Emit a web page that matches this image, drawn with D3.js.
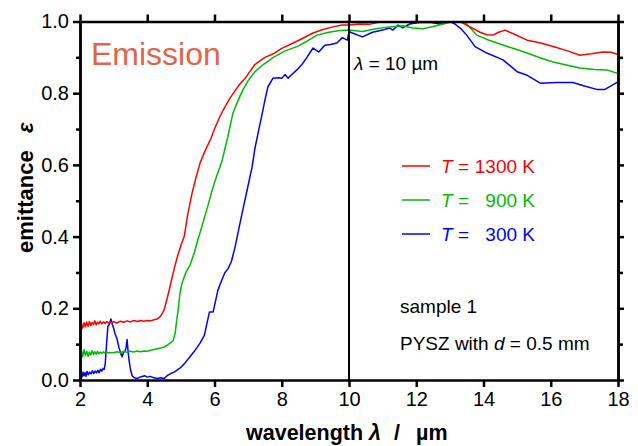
<!DOCTYPE html>
<html>
<head>
<meta charset="utf-8">
<script src="https://cdn.jsdelivr.net/npm/d3@7"></script>
<style>
  body { margin: 0; background: #fff; }
  svg { display: block; font-family: "Liberation Sans", Arial, sans-serif; }
</style>
</head>
<body>
<svg id="chart" width="638" height="446"></svg>
<script>
// tick labels
var xTicks = [2, 4, 6, 8, 10, 12, 14, 16, 18];
var yTicks = [0, 0.2, 0.4, 0.6, 0.8, 1.0];
var yMinor = [0.1, 0.3, 0.5, 0.7, 0.9];

// T = 1300 K
var redWl = [2.00,2.04,2.08,2.12,2.16,2.20,2.24,2.28,2.32,2.36,2.40,2.44,2.48,2.52,2.56,2.60,2.65,2.70,2.75,2.80,2.85,2.90,2.95,3.00,3.1,3.2,3.3,3.4,3.5,3.6,3.7,3.8,3.9,4.0,4.1,4.2,4.3,4.4,4.5,4.6,4.7,4.8,4.9,5.0,5.1,5.2,5.33,5.45,5.57,5.7,5.8,5.9,6.0,6.16,6.3,6.45,6.6,6.75,6.9,7.05,7.2,7.35,7.5,7.75,8.0,8.34,8.6,8.93,9.2,9.52,9.8,10.0,10.3,10.6,11.0,11.3,11.6,12.0,12.5,13.0,13.3,13.6,13.9,14.1,14.28,14.45,14.64,14.9,15.3,15.7,16.07,16.5,16.87,17.2,17.55,17.8,18.0];
var redEps = [0.140,0.158,0.145,0.160,0.148,0.162,0.150,0.163,0.152,0.160,0.155,0.165,0.154,0.161,0.157,0.164,0.157,0.162,0.158,0.163,0.159,0.162,0.160,0.163,0.159,0.164,0.161,0.165,0.162,0.166,0.163,0.166,0.164,0.166,0.165,0.168,0.170,0.178,0.195,0.23,0.27,0.31,0.345,0.375,0.40,0.46,0.52,0.565,0.605,0.635,0.655,0.675,0.70,0.735,0.76,0.785,0.805,0.825,0.84,0.86,0.88,0.89,0.90,0.91,0.925,0.94,0.952,0.968,0.977,0.985,0.99,0.99,0.993,0.992,1.0,1.005,1.01,1.01,1.01,1.01,1.0,0.985,0.97,0.963,0.962,0.97,0.976,0.965,0.948,0.94,0.93,0.918,0.906,0.91,0.915,0.914,0.908];

// T = 900 K
var greenWl = [2.00,2.04,2.08,2.12,2.16,2.20,2.24,2.28,2.32,2.36,2.40,2.44,2.48,2.52,2.56,2.60,2.65,2.70,2.75,2.80,2.85,2.90,3.0,3.1,3.2,3.3,3.4,3.5,3.6,3.7,3.8,3.9,4.0,4.1,4.2,4.3,4.4,4.5,4.6,4.7,4.77,4.83,4.88,4.92,4.97,5.02,5.07,5.15,5.27,5.4,5.5,5.63,5.8,5.93,6.05,6.22,6.31,6.4,6.55,6.7,6.85,7.0,7.2,7.45,7.75,8.1,8.45,8.75,9.05,9.4,9.73,10.0,10.4,10.8,11.2,11.6,11.9,12.2,12.6,13.0,13.2,13.45,13.65,13.8,14.1,14.4,14.85,15.3,15.7,16.07,16.5,16.87,17.3,17.67,18.0];
var greenEps = [0.060,0.082,0.065,0.085,0.068,0.080,0.066,0.078,0.070,0.082,0.071,0.079,0.072,0.080,0.073,0.078,0.074,0.079,0.074,0.078,0.075,0.077,0.076,0.079,0.076,0.080,0.077,0.080,0.078,0.081,0.079,0.081,0.080,0.083,0.085,0.087,0.089,0.092,0.097,0.104,0.11,0.13,0.17,0.195,0.24,0.265,0.28,0.30,0.32,0.355,0.39,0.43,0.485,0.53,0.565,0.61,0.645,0.68,0.745,0.78,0.81,0.835,0.86,0.88,0.90,0.918,0.93,0.945,0.962,0.97,0.975,0.976,0.972,0.98,0.985,0.988,0.982,0.98,0.988,0.998,1.0,0.997,0.978,0.962,0.95,0.94,0.926,0.912,0.898,0.887,0.878,0.87,0.866,0.865,0.855];

// T = 300 K
var blueWl = [2.00,2.03,2.06,2.09,2.12,2.15,2.18,2.21,2.25,2.29,2.33,2.37,2.41,2.45,2.49,2.53,2.57,2.61,2.65,2.69,2.72,2.75,2.79,2.83,2.87,2.92,2.96,3.00,3.04,3.10,3.16,3.21,3.25,3.30,3.34,3.37,3.40,3.43,3.46,3.50,3.55,3.62,3.70,3.78,3.85,3.92,4.00,4.1,4.2,4.3,4.4,4.5,4.59,4.7,4.8,4.97,5.1,5.27,5.4,5.57,5.7,5.78,5.85,5.96,6.03,6.1,6.2,6.31,6.4,6.5,6.61,6.72,6.82,6.97,7.12,7.2,7.3,7.44,7.52,7.59,7.74,7.9,8.0,8.1,8.19,8.3,8.45,8.6,8.75,8.93,9.1,9.28,9.45,9.64,9.8,9.95,10.0,10.1,10.4,10.7,11.0,11.2,11.3,11.46,11.6,11.8,12.1,12.4,12.7,13.0,13.15,13.35,13.5,13.75,14.1,14.58,15.0,15.3,15.69,16.18,16.66,17.0,17.4,17.6,17.97,18.0];
var blueEps = [0.005,0.018,0.008,0.022,0.012,0.020,0.010,0.024,0.015,0.022,0.017,0.026,0.018,0.025,0.020,0.027,0.020,0.030,0.025,0.032,0.030,0.045,0.10,0.15,0.155,0.17,0.155,0.145,0.13,0.115,0.09,0.075,0.065,0.078,0.08,0.09,0.113,0.08,0.055,0.03,0.012,0.006,0.004,0.008,0.010,0.012,0.008,0.010,0.006,0.004,0.006,0.004,0.012,0.018,0.022,0.033,0.045,0.065,0.08,0.103,0.125,0.16,0.19,0.19,0.22,0.25,0.275,0.30,0.31,0.33,0.37,0.42,0.465,0.53,0.595,0.645,0.69,0.753,0.79,0.818,0.842,0.843,0.842,0.852,0.842,0.852,0.865,0.88,0.90,0.926,0.915,0.934,0.936,0.94,0.955,0.948,0.972,0.968,0.957,0.97,0.976,0.982,0.976,0.99,0.982,0.993,0.997,0.998,0.993,1.0,0.993,0.978,0.962,0.93,0.912,0.893,0.86,0.85,0.828,0.83,0.83,0.82,0.81,0.81,0.83,0.825];

var seriesNames = ["1300", "900", "300"];
var seriesColors = ["#ff0000", "#00bb00", "#0000ff"];

var svg = d3.select("#chart");
var padL = 80, padR = 618, padT = 21.5, padB = 380;

var x = d3.scaleLinear().domain([2, 18]).range([padL, padR]);
var y = d3.scaleLinear().domain([0, 1]).range([padB, padT]);

svg.append("clipPath").attr("id", "clip")
  .append("rect").attr("x", padL).attr("y", padT).attr("width", padR - padL).attr("height", padB - padT);

var line = d3.line().x(function (d) { return x(d[0]); }).y(function (d) { return y(d[1]); });

var series = [
  d3.zip(redWl, redEps),
  d3.zip(greenWl, greenEps),
  d3.zip(blueWl, blueEps)
];

// draw low-T first so red sits on top
var plot = svg.append("g").attr("clip-path", "url(#clip)");
[2, 1, 0].forEach(function (i) {
  plot.append("path")
    .datum(series[i])
    .attr("fill", "none")
    .attr("stroke", seriesColors[i])
    .attr("stroke-width", 1.5)
    .attr("stroke-linejoin", "round")
    .attr("d", line);
});

// marker line at 10 µm
svg.append("line")
  .attr("x1", x(10)).attr("x2", x(10))
  .attr("y1", y(1)).attr("y2", y(0))
  .attr("stroke", "#000").attr("stroke-width", 2);

function styleAxis(g) {
  g.selectAll("path, line").attr("stroke", "#000").attr("stroke-width", 2.5);
  g.selectAll("text").attr("fill", "#000").style("font-size", "20px")
    .style("font-family", "Liberation Sans, Arial, sans-serif");
}

svg.append("g").attr("transform", "translate(0," + padB + ")")
  .call(d3.axisBottom(x).tickValues(xTicks).tickSize(7).tickSizeOuter(0).tickPadding(5).tickFormat(d3.format("d")))
  .call(styleAxis);
svg.append("g").attr("transform", "translate(0," + padT + ")")
  .call(d3.axisTop(x).tickValues(xTicks).tickSize(7).tickSizeOuter(0).tickFormat(""))
  .call(styleAxis);
svg.append("g").attr("transform", "translate(" + padL + ",0)")
  .call(d3.axisLeft(y).tickValues(yTicks).tickSize(7).tickSizeOuter(0).tickPadding(4).tickFormat(d3.format(".1f")))
  .call(styleAxis);
svg.append("g").attr("transform", "translate(" + padL + ",0)")
  .call(d3.axisLeft(y).tickValues(yMinor).tickSize(4).tickSizeOuter(0).tickFormat(""))
  .call(styleAxis);
svg.append("g").attr("transform", "translate(" + padR + ",0)")
  .call(d3.axisRight(y).tickValues(yTicks).tickSize(6).tickSizeOuter(0).tickFormat(""))
  .call(styleAxis);
svg.append("g").attr("transform", "translate(" + padR + ",0)")
  .call(d3.axisRight(y).tickValues(yMinor).tickSize(5).tickSizeOuter(0).tickFormat(""))
  .call(styleAxis);

// axis titles
var xt = svg.append("text").attr("y", 440)
  .style("font-size", "21.5px").style("font-weight", "bold");
xt.append("tspan").attr("x", 246).text("wavelength");
xt.append("tspan").attr("x", 369).style("font-style", "italic").text("λ");
xt.append("tspan").attr("x", 394).text("/");
xt.append("tspan").attr("x", 416).text("µm");

var yt = svg.append("text").attr("transform", "translate(33,0) rotate(-90)")
  .style("font-size", "22px").style("font-weight", "bold");
yt.append("tspan").attr("x", -253).text("emittance");
yt.append("tspan").attr("x", -133).style("font-style", "italic").text("ε");

svg.append("text").attr("x", 91).attr("y", 65)
  .style("font-size", "32px").attr("fill", "#e0654d").text("Emission");

var lt = svg.append("text").attr("x", 354).attr("y", 70).style("font-size", "19px");
lt.append("tspan").style("font-style", "italic").text("λ");
lt.append("tspan").text(" = 10 µm");

// legend
var legY = [166, 200, 234];
seriesNames.forEach(function (name, i) {
  svg.append("line").attr("x1", 402).attr("x2", 430).attr("y1", legY[i]).attr("y2", legY[i])
    .attr("stroke", seriesColors[i]).attr("stroke-width", 1.5);
  var t = svg.append("text").attr("x", 441).attr("y", legY[i] + 7).style("font-size", "19px").attr("fill", seriesColors[i]);
  t.append("tspan").style("font-style", "italic").text("T");
  t.append("tspan").text(" =");
  svg.append("text").attr("x", 535).attr("y", legY[i] + 7).attr("text-anchor", "end")
    .style("font-size", "19px").attr("fill", seriesColors[i]).text(name + " K");
});

svg.append("text").attr("x", 400).attr("y", 313).style("font-size", "19px").text("sample 1");
var st = svg.append("text").attr("x", 400).attr("y", 350).style("font-size", "19px");
st.append("tspan").text("PYSZ with ");
st.append("tspan").style("font-style", "italic").text("d");
st.append("tspan").text(" = 0.5 mm");
</script>
</body>
</html>
